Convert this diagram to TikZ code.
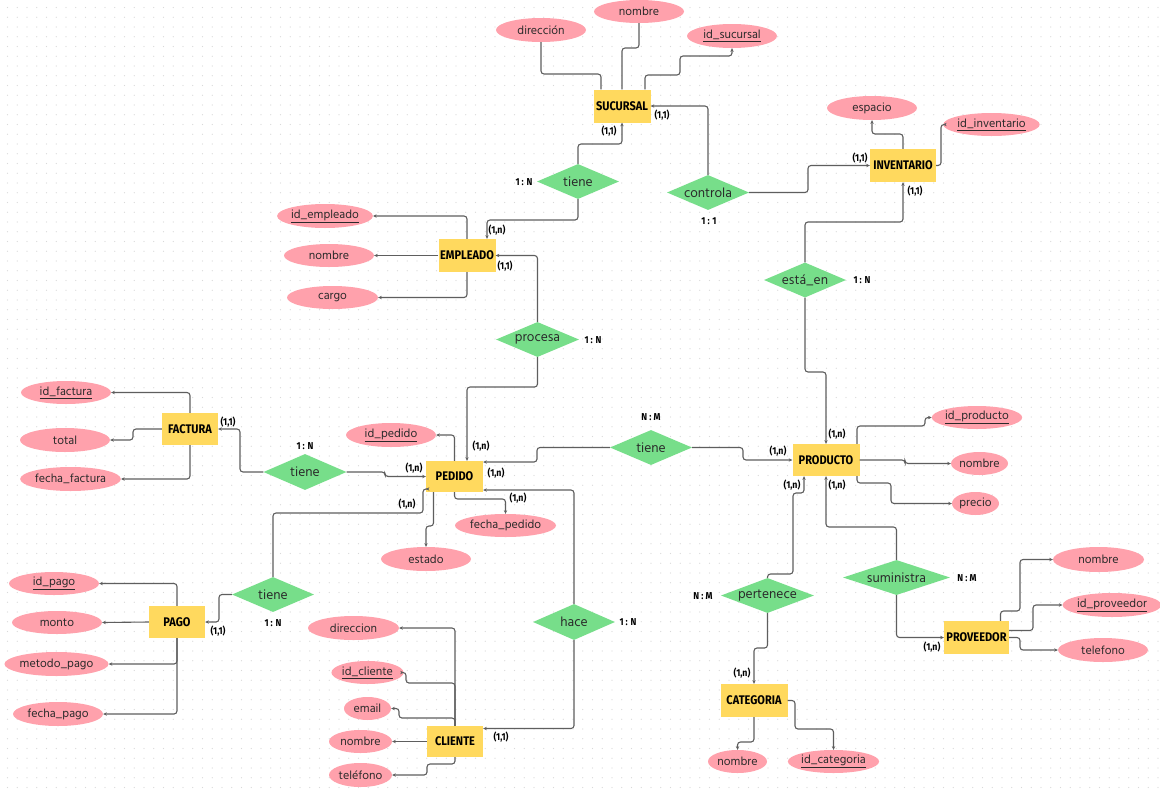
\documentclass[tikz,border=0pt]{standalone}
\usepackage{fontspec}
\setmainfont{Hind Siliguri}
\newfontfamily\entf[FakeStretch=0.88]{Fira Sans}
\usetikzlibrary{shapes.geometric,arrows.meta}
\definecolor{entY}{HTML}{FFD95E}
\definecolor{relG}{HTML}{77DE8A}
\definecolor{attrP}{HTML}{FFA1AC}
\definecolor{lineC}{HTML}{5E5E5E}
\definecolor{dotC}{HTML}{D9D9D9}
\definecolor{txtC}{HTML}{2A2A2A}
\begin{document}
\begin{tikzpicture}[x=1pt,y=-1pt,
  ent/.style={rectangle,fill=entY,inner sep=0,minimum height=33,text=black,
    font=\entf\fontsize{12.5}{13}\selectfont\bfseries},
  attr/.style={ellipse,fill=attrP,inner sep=0,minimum width=90,minimum height=24,text=txtC,
    font=\fontsize{12}{13}\selectfont},
  rellab/.style={inner sep=0,text=txtC,font=\fontsize{13.5}{14}\selectfont},
  rel/.style={diamond,fill=relG,inner sep=0,minimum width=82,minimum height=35,
    label={[rellab]center:#1}},
  card/.style={inner sep=0,text=black,font=\entf\fontsize{10}{10}\selectfont\bfseries},
  con/.style={draw=lineC,line width=1.1pt,rounded corners=3pt},
  arr/.style={-{Stealth[length=3.6pt,width=3.4pt]}}]
\useasboundingbox (0,0) rectangle (1160,788);
\fill[white] (0,0) rectangle (1160,788);
\foreach \i in {0,...,80}{
  \draw[dotC,line width=1.4pt,line cap=round,dash pattern=on 0pt off 9.75pt]
    (7.5,7.5+\i*9.75) -- (1160,7.5+\i*9.75);
}
% ---------- entities
\node[ent,minimum width=57] (suc) at (622,106) {SUCURSAL};
\node[ent,minimum width=66] (inv) at (903,165.5) {INVENTARIO};
\node[ent,minimum width=57] (emp) at (467,255.5) {EMPLEADO};
\node[ent,minimum width=56,minimum height=32] (fac) at (190,429) {FACTURA};
\node[ent,minimum width=57,minimum height=31] (ped) at (454.5,476.5) {PEDIDO};
\node[ent,minimum width=56,minimum height=32] (pago) at (177,622) {PAGO};
\node[ent,minimum width=56,minimum height=31] (cli) at (455,741.5) {CLIENTE};
\node[ent,minimum width=67,minimum height=32] (prod) at (826,460) {PRODUCTO};
\node[ent,minimum width=65] (prov) at (976.5,637.5) {PROVEEDOR};
\node[ent,minimum width=67] (cat) at (754,700.5) {CATEGORIA};
% ---------- relationships
\node[rel=tiene] (t1) at (578,181.5) {};
\node[rel=controla] (ctl) at (708,192.5) {};
\node[rel=está\_en] (est) at (805,280) {};
\node[rel=procesa,minimum width=83] (pro) at (537.5,339.5) {};
\node[rel=tiene,minimum width=83,minimum height=36] (t2) at (305,472) {};
\node[rel=tiene] (t3) at (273,594.5) {};
\node[rel=tiene] (t4) at (651,447.5) {};
\node[rel=hace,minimum height=36] (hace) at (574,622) {};
\node[rel=pertenece,minimum width=93] (per) at (767.5,595.5) {};
\node[rel=suministra,minimum width=107] (sum) at (896.5,577.5) {};
% ---------- attributes
\node[attr] (dirS) at (541,30) {dirección};
\node[attr,minimum height=23] (nomS) at (639,11.5) {nombre};
\node[attr] (idS) at (732,36) {\underline{id\_sucursal}};
\node[attr] (esp) at (872,108) {espacio};
\node[attr,minimum width=89,minimum height=23] (idI) at (991.5,124.5) {\underline{id\_inventario}};
\node[attr] (idE) at (325,216) {\underline{id\_empleado}};
\node[attr,minimum height=23] (nomE) at (329,255.5) {nombre};
\node[attr,minimum width=91,minimum height=23] (cargo) at (332.5,297.5) {cargo};
\node[attr,minimum height=23] (idF) at (66,392.5) {\underline{id\_factura}};
\node[attr] (tot) at (65,440) {total};
\node[attr,minimum width=97] (ff) at (70.5,479) {fecha\_factura};
\node[attr] (idP) at (391,435) {\underline{id\_pedido}};
\node[attr,minimum width=101,minimum height=23] (fp) at (505.5,525.5) {fecha\_pedido};
\node[attr] (est2) at (426,559) {estado};
\node[attr,minimum height=23] (idPg) at (54,583.5) {\underline{id\_pago}};
\node[attr,minimum height=23] (monto) at (57,622.5) {monto};
\node[attr,minimum width=97] (met) at (56.5,664) {metodo\_pago};
\node[attr] (fpg) at (58,714) {fecha\_pago};
\node[attr,minimum width=91] (dirC) at (353.5,628) {direccion};
\node[attr,minimum width=63,minimum height=23] (idC) at (367.5,672.5) {\underline{id\_cliente}};
\node[attr,minimum width=47,minimum height=23] (email) at (367.5,708.5) {email};
\node[attr,minimum width=63,minimum height=23] (nomC) at (360.5,741.5) {nombre};
\node[attr,minimum width=63] (tel) at (360.5,775) {teléfono};
\node[attr,minimum height=23] (idPr) at (977,417.5) {\underline{id\_producto}};
\node[attr,minimum width=57,minimum height=23] (nomP) at (979.5,463.5) {nombre};
\node[attr,minimum width=47,minimum height=23] (pre) at (975.5,503.5) {precio};
\node[attr,minimum width=91,minimum height=25] (nomV) at (1098.5,559.5) {nombre};
\node[attr] (idV) at (1112,605) {\underline{id\_proveedor}};
\node[attr] (telV) at (1103,650) {telefono};
\node[attr,minimum width=59,minimum height=23] (nomK) at (737.5,761.5) {nombre};
\node[attr,minimum width=91,minimum height=23] (idK) at (833.5,761.5) {\underline{id\_categoria}};
% ---------- connectors: SUCURSAL
\draw[con] ([xshift=-21]suc.north) |- (541,74) -- (dirS.south);
\draw[con] (suc.north) |- (639,48) -- (nomS.south);
\draw[con,arr] ([xshift=23]suc.north) |- (680,75) |- (732,56) -- (idS.south);
\draw[con,arr] (t1.north) |- (622,144) -- (suc.south);
\draw[con,arr] (t1.south) |- (487,220) -- ([xshift=20]emp.north);
\draw[con,arr] (ctl.north) |- (suc.east);
\draw[con,arr] (ctl.east) -| (808,165.5) -- (inv.west);
% INVENTARIO
\draw[con,arr] (inv.north) |- (872,134) -- (esp.south);
\draw[con,arr] (inv.east) -| (941,124.5) -- (idI.west);
\draw[con,arr] (est.north) |- (903,222) -- (inv.south);
\draw[con,arr] (est.south) |- (826,372) -- (prod.north);
% EMPLEADO
\draw[con,arr] (emp.north) |- (idE.east);
\draw[con,arr] (emp.west) -- (nomE.east);
\draw[con,arr] (emp.south) |- (cargo.east);
\draw[con,arr] (pro.north) |- (emp.east);
\draw[con,arr] (pro.south) |- (467,387) -- ([xshift=12.5]ped.north);
% FACTURA
\draw[con,arr] (fac.north) |- (idF.east);
\draw[con,arr] (fac.west) -- (133,429) |- (tot.east);
\draw[con,arr] (fac.south) |- (ff.east);
\draw[con,arr] (t2.west) -| (240,429) -- (fac.east);
\draw[con,arr] (t2.east) -- (385,472) |- (ped.west);
% PEDIDO
\draw[con,arr] (ped.north) |- (idP.east);
\draw[con,arr] (ped.south) |- (505.5,499) -- (fp.north);
\draw[con,arr] ([xshift=-21]ped.south) |- (426,526) -- (est2.north);
\draw[con,arr] (t3.north) |- (423,513) |- ([yshift=-12.5]ped.west);
\draw[con,arr] (t4.west) -| (537,462) -- ([yshift=14.5]ped.east);
\draw[con,arr] (hace.north) |- ([yshift=-13.5]ped.east);
\draw[con,arr] (t4.east) -- (743,447.5) |- (prod.west);
\draw[con,arr] (hace.south) |- ([yshift=13]cli.east);
% PAGO
\draw[con,arr] (pago.north) |- (idPg.east);
\draw[con,arr] (pago.west) -- (monto.east);
\draw[con,arr] (pago.south) |- (met.east);
\draw[con,arr] (pago.south) |- (fpg.east);
\draw[con,arr] (t3.west) -| (219,622) -- (pago.east);
% CLIENTE
\draw[con,arr] (cli.north) |- (dirC.east);
\draw[con,arr] (cli.north) |- (406,683) |- (idC.east);
\draw[con,arr] (cli.north) |- (399,718) |- (email.east);
\draw[con,arr] (cli.west) -- (nomC.east);
\draw[con,arr] (cli.south) |- (427,764) |- (tel.east);
% PRODUCTO
\draw[con,arr] ([xshift=31]prod.north) |- (925,426) |- (idPr.west);
\draw[con,arr] (prod.east) -- (905,460) |- (nomP.west);
\draw[con,arr] ([xshift=31]prod.south) |- (891,483) |- (pre.west);
\draw[con,arr] (per.north) |- (793,574) -- (793,493) -| ([xshift=-22]prod.south);
\draw[con,arr] (sum.north) |- (826,527) -- (prod.south);
\draw[con,arr] (per.south) |- (754,648) -- (cat.north);
\draw[con,arr] (sum.south) |- (prov.west);
% PROVEEDOR
\draw[con,arr] ([xshift=24]prov.north) |- (1020,611) |- (nomV.west);
\draw[con,arr] ([yshift=7]prov.east) -| (1033,605) -- (idV.west);
\draw[con,arr] (prov.east) -| (1020,650) -- (telV.west);
% CATEGORIA
\draw[con,arr] (cat.south) |- (737.5,742) -- (nomK.north);
\draw[con,arr] (cat.east) -| (795,729) -| (idK.north);
% ---------- cardinalities
\node[card] (c1) at (609,131) {(1,1)};
\node[card] (c2) at (662,115) {(1,1)};
\node[card] (c3) at (524,182) {1 : N};
\node[card] (c4) at (709,221) {1 : 1};
\node[card] (c5) at (860,158) {(1,1)};
\node[card] (c6) at (915,191) {(1,1)};
\node[card] (c7) at (862,280) {1 : N};
\node[card] (c8) at (497,230) {(1,n)};
\node[card] (c9) at (505,266) {(1,1)};
\node[card] (c10) at (593,340) {1 : N};
\node[card] (c11) at (228,422) {(1,1)};
\node[card] (c12) at (305,446) {1 : N};
\node[card] (c13) at (414,468) {(1,n)};
\node[card] (c14) at (407,504) {(1,n)};
\node[card] (c15) at (481,446) {(1,n)};
\node[card] (c16) at (496,473) {(1,n)};
\node[card] (c17) at (518,498) {(1,n)};
\node[card] (c18) at (218,631) {(1,1)};
\node[card] (c19) at (273,623) {1 : N};
\node[card] (c20) at (501,737) {(1,1)};
\node[card] (c21) at (628,622) {1 : N};
\node[card] (c22) at (651,417) {N : M};
\node[card] (c23) at (778,451) {(1,n)};
\node[card] (c24) at (837,434) {(1,n)};
\node[card] (c25) at (792,485) {(1,n)};
\node[card] (c26) at (837,485) {(1,n)};
\node[card] (c27) at (967,578) {N : M};
\node[card] (c28) at (703,596) {N : M};
\node[card] (c29) at (742,673) {(1,n)};
\node[card] (c30) at (932,647) {(1,n)};
\end{tikzpicture}
\end{document}
